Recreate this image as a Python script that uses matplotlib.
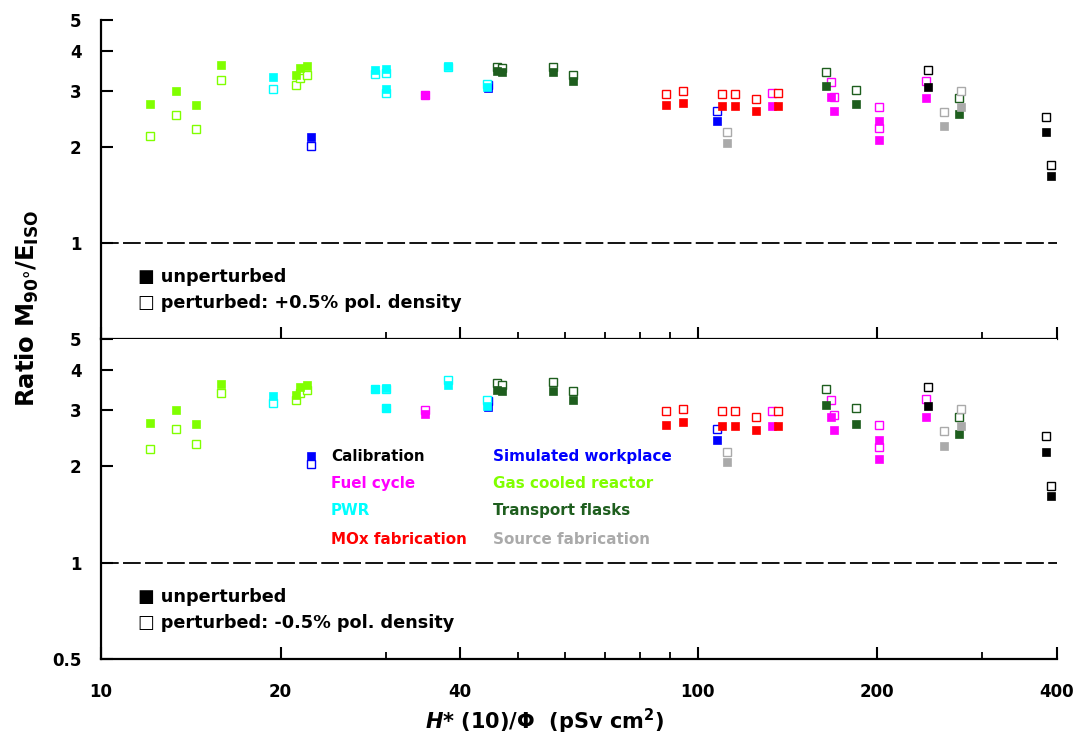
import matplotlib
matplotlib.use("Agg")
import matplotlib.pyplot as plt
from matplotlib.ticker import FixedLocator, FixedFormatter, NullFormatter

plt.rcParams["font.family"] = ["DejaVu Sans"]
plt.rcParams["mathtext.fontset"] = "custom"
plt.rcParams["mathtext.rm"] = "DejaVu Sans:bold"
plt.rcParams["mathtext.it"] = "DejaVu Sans:italic:bold"
plt.rcParams["mathtext.bf"] = "DejaVu Sans:bold"

# H*(10)/Phi (pSv cm2) and response ratios per spectrum group:
# u = unperturbed, p = +0.5% polyethylene density, m = -0.5% polyethylene density
simw_x = [22.46, 44.6, 107.7]
simw_u = [2.15, 3.07, 2.42]
simw_p = [2.01, 3.13, 2.59]
simw_m = [2.03, 3.20, 2.61]

pwr_x = [19.42, 28.79, 30.09, 30.09, 38.19, 44.40]
pwr_u = [3.31, 3.49, 3.51, 3.04, 3.59, 3.08]
pwr_p = [3.03, 3.38, 3.40, 2.95, 3.57, 3.14]
pwr_m = [3.15, 3.49, 3.50, 3.04, 3.72, 3.22]

fuel_x = [34.91, 133.4, 167.3, 169.0, 201.3, 201.3, 241.1]
fuel_u = [2.91, 2.68, 2.86, 2.60, 2.42, 2.11, 2.85]
fuel_p = [2.90, 2.95, 3.20, 2.86, 2.67, 2.30, 3.22]
fuel_m = [3.01, 2.97, 3.22, 2.90, 2.69, 2.30, 3.24]

mox_x = [88.40, 94.5, 109.9, 115.5, 125.1, 136.2]
mox_u = [2.70, 2.75, 2.68, 2.68, 2.59, 2.68]
mox_p = [2.94, 3.00, 2.94, 2.94, 2.83, 2.95]
mox_m = [2.97, 3.02, 2.97, 2.97, 2.85, 2.97]

gcr_x = [12.08, 13.36, 14.41, 15.87, 21.20, 21.56, 22.14]
gcr_u = [2.73, 3.00, 2.71, 3.62, 3.35, 3.53, 3.58]
gcr_p = [2.17, 2.52, 2.27, 3.25, 3.13, 3.28, 3.35]
gcr_m = [2.26, 2.62, 2.35, 3.39, 3.23, 3.40, 3.46]

tf_x = [46.18, 47.04, 57.28, 61.74, 164.3, 184.0, 274.1]
tf_u = [3.46, 3.43, 3.43, 3.22, 3.11, 2.72, 2.53]
tf_p = [3.55, 3.53, 3.57, 3.37, 3.44, 3.02, 2.84]
tf_m = [3.63, 3.59, 3.66, 3.44, 3.49, 3.04, 2.85]

src_x = [112.0, 259.0, 275.9]
src_u = [2.06, 2.32, 2.67]
src_p = [2.22, 2.58, 3.00]
src_m = [2.22, 2.58, 3.02]

calib_x = [242.9, 383.9, 390.5]
calib_u = [3.09, 2.22, 1.62]
calib_p = [3.48, 2.48, 1.76]
calib_m = [3.54, 2.49, 1.74]

groups = [
    ("Simulated workplace", "#0000FF", simw_x, simw_u, simw_p, simw_m),
    ("PWR", "#00FFFF", pwr_x, pwr_u, pwr_p, pwr_m),
    ("Fuel cycle", "#FF00FF", fuel_x, fuel_u, fuel_p, fuel_m),
    ("MOx fabrication", "#FF0000", mox_x, mox_u, mox_p, mox_m),
    ("Gas cooled reactor", "#80FF00", gcr_x, gcr_u, gcr_p, gcr_m),
    ("Transport flasks", "#1E5E1E", tf_x, tf_u, tf_p, tf_m),
    ("Source fabrication", "#AAAAAA", src_x, src_u, src_p, src_m),
    ("Calibration", "#000000", calib_x, calib_u, calib_p, calib_m),
]
legend_cols = [
    ["Calibration", "Fuel cycle", "PWR", "MOx fabrication"],
    ["Simulated workplace", "Gas cooled reactor", "Transport flasks", "Source fabrication"],
]
color_of = {g[0]: g[1] for g in groups}

x_major = [10, 20, 40, 100, 200, 400]
x_minor = [30, 50, 60, 70, 80, 90, 300]
y_top = [1, 2, 3, 4, 5]
y_bot = [0.5, 1, 2, 3, 4, 5]

fig = plt.figure(figsize=(10.79, 7.38), dpi=100)
left, right = 0.0936, 0.9796
ax_top = fig.add_axes([left, 0.5407, right - left, 0.9729 - 0.5407])
ax_bot = fig.add_axes([left, 0.107, right - left, 0.5407 - 0.107])

ms = 5.3
for ax, pert_idx, yt, note in [
    (ax_top, 4, y_top, "perturbed: +0.5% pol. density"),
    (ax_bot, 5, y_bot, "perturbed: -0.5% pol. density"),
]:
    ax.set_xscale("log")
    ax.set_yscale("log")
    ax.set_xlim(10, 400)
    ax.set_ylim(0.5, 5)
    for sp in ("top", "right"):
        ax.spines[sp].set_visible(False)
    for sp in ("left", "bottom"):
        ax.spines[sp].set_linewidth(1.6)

    ax.axhline(1.0, color="black", lw=1.3, linestyle=(0, (9.8, 2.4)), zorder=1)

    for g in groups:
        col, xs = g[1], g[2]
        pv = g[pert_idx]
        ax.plot(xs, pv, ls="none", marker="s", ms=ms, mfc="white", mec=col,
                mew=1.0, zorder=2)
    for g in groups:
        col, xs, u = g[1], g[2], g[3]
        ax.plot(xs, u, ls="none", marker="s", ms=ms, mfc=col, mec=col,
                mew=0.5, zorder=3)

    ax.xaxis.set_major_locator(FixedLocator(x_major))
    ax.xaxis.set_minor_locator(FixedLocator(x_minor))
    ax.xaxis.set_minor_formatter(NullFormatter())
    ax.yaxis.set_major_locator(FixedLocator(yt))
    ax.yaxis.set_major_formatter(FixedFormatter([("%g" % v) for v in yt]))
    ax.yaxis.set_minor_locator(FixedLocator([]))
    ax.tick_params(axis="both", which="major", direction="in", length=8.5,
                   width=1.5, labelsize=12)
    ax.tick_params(axis="x", which="minor", direction="in", length=5.2, width=1.3)
    ax.tick_params(axis="y", which="major", pad=14)
    for lab in ax.get_yticklabels():
        lab.set_fontweight("bold")

    ax.text(0.039, 0.195, "\u25A0 unperturbed", transform=ax.transAxes,
            fontsize=12.7, fontweight="bold", va="center", ha="left")
    ax.text(0.039, 0.113, "\u25A1 " + note, transform=ax.transAxes,
            fontsize=12.7, fontweight="bold", va="center", ha="left")

ax_top.tick_params(axis="x", which="major", labelbottom=False)
ax_bot.xaxis.set_major_formatter(FixedFormatter([str(v) for v in x_major]))
ax_bot.tick_params(axis="x", which="major", pad=17)
for lab in ax_bot.get_xticklabels():
    lab.set_fontweight("bold")

# group key written in the group colours
row_y = [0.634, 0.547, 0.463, 0.375]
for cx, names in zip([0.2406, 0.41], legend_cols):
    for ry, nm in zip(row_y, names):
        ax_bot.text(cx, ry, nm, transform=ax_bot.transAxes, color=color_of[nm],
                    fontsize=10.9, fontweight="bold", va="center", ha="left")

fig.text(0.025, 0.582, r"Ratio M$_{\mathrm{90\degree}}$/E$_{\mathrm{ISO}}$",
         rotation=90, fontsize=17.5, fontweight="bold", ha="center", va="center")
fig.text(0.505, 0.022, r"$\it{H}$* (10)/$\Phi$  (pSv cm$^{2}$)",
         fontsize=15, fontweight="bold", ha="center", va="center")

fig.savefig("out.png", dpi=100)
